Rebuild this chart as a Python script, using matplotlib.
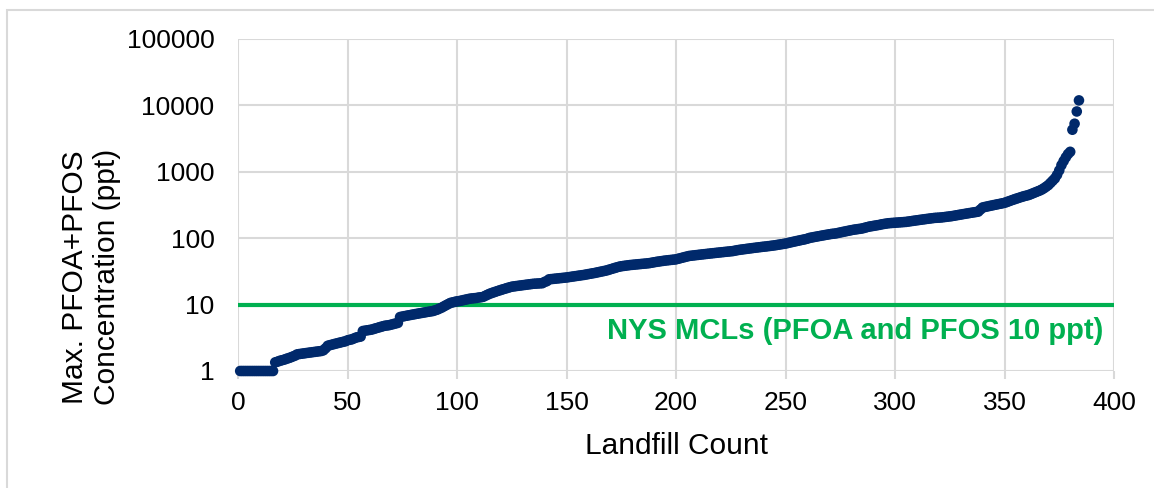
import matplotlib.pyplot as plt
import matplotlib.ticker as mticker
from matplotlib.patches import Rectangle
import numpy as np

plt.rcParams['font.family'] = ['Liberation Sans', 'DejaVu Sans']

# sorted max PFOA+PFOS per landfill (ppt)
conc = [
    1, 1, 1, 1, 1, 1, 1, 1, 1, 1,
    1, 1, 1, 1, 1, 1, 1.35, 1.38, 1.42, 1.45,
    1.48, 1.52, 1.56, 1.6, 1.65, 1.7, 1.78, 1.8, 1.82, 1.84,
    1.86, 1.88, 1.9, 1.92, 1.94, 1.96, 1.98, 2.0, 2.05, 2.2,
    2.4, 2.45, 2.5, 2.55, 2.6, 2.65, 2.7, 2.75, 2.8, 2.9,
    2.95, 3.0, 3.1, 3.2, 3.25, 3.3, 4.0, 4.05, 4.1, 4.15,
    4.2, 4.3, 4.4, 4.5, 4.6, 4.7, 4.8, 4.85, 4.9, 5.0,
    5.1, 5.2, 5.3, 6.5, 6.6, 6.7, 6.8, 6.9, 7.0, 7.1,
    7.2, 7.3, 7.4, 7.5, 7.6, 7.7, 7.8, 7.9, 8.0, 8.2,
    8.4, 8.7, 9.0, 9.4, 9.8, 10.2, 10.6, 10.8, 11.0, 11.2,
    11.3, 11.5, 11.7, 11.9, 12.1, 12.3, 12.4, 12.5, 12.6, 12.8,
    12.9, 13.1, 13.6, 14.1, 14.6, 15.0, 15.4, 15.8, 16.2, 16.6,
    17.0, 17.4, 17.8, 18.2, 18.6, 18.8, 19.0, 19.2, 19.4, 19.6,
    19.8, 20.0, 20.2, 20.4, 20.6, 20.7, 20.8, 20.9, 21.0, 22.0,
    22.5, 24.0, 24.2, 24.4, 24.6, 24.8, 25.0, 25.2, 25.4, 25.6,
    25.9, 26.2, 26.5, 26.8, 27.1, 27.4, 27.7, 28.0, 28.4, 28.8,
    29.2, 29.6, 30.0, 30.5, 31.0, 31.5, 32.0, 32.5, 33.2, 34.0,
    34.8, 35.6, 36.4, 37.2, 37.8, 38.2, 38.6, 39.0, 39.4, 39.7,
    40.0, 40.3, 40.6, 40.9, 41.2, 41.5, 41.8, 42.2, 42.8, 43.4,
    44.0, 44.5, 45.0, 45.5, 46.0, 46.4, 46.8, 47.2, 47.6, 48.0,
    49, 50, 51, 52, 53, 54, 54.5, 55, 55.5, 56,
    56.5, 57, 57.5, 58, 58.5, 59, 59.5, 60, 60.5, 61,
    61.5, 62, 62.5, 63, 63.5, 64, 65, 66, 66.8, 67.5,
    68.2, 68.9, 69.6, 70.3, 71, 71.7, 72.4, 73.1, 73.8, 74.5,
    75, 75.8, 76.5, 77.3, 78, 79, 80, 81, 82, 83,
    84.5, 86, 87.5, 89, 90.5, 92, 93.5, 95, 96.5, 98.5,
    101, 102.5, 104, 105.5, 107, 108.5, 110, 111.5, 113, 114.5,
    116, 117, 118, 120, 122, 124, 126, 128, 130, 132,
    134, 135.5, 137, 138.5, 140, 143, 146, 149, 151, 153,
    155, 157, 159, 162, 164, 166, 168, 169, 170, 171,
    172, 173, 174, 175, 176, 178, 180, 182, 184, 186,
    188, 190, 192, 194, 196, 198, 200, 202, 203, 204,
    205, 207, 209, 211, 213, 215, 218, 221, 224, 227,
    230, 233, 236, 239, 242, 245, 248, 251, 270, 290,
    295, 300, 305, 310, 315, 320, 325, 330, 335, 341,
    350, 360, 370, 380, 390, 400, 410, 420, 430, 438,
    447, 460, 475, 490, 505, 520, 540, 565, 596, 630,
    680, 735, 795, 900, 1050, 1260, 1450, 1650, 1850, 2000,
    4300, 5300, 8100, 11900,
]
count = np.arange(1, len(conc) + 1)

mcl = 10
mcl_label = 'NYS MCLs (PFOA and PFOS 10 ppt)'
yticks = [1, 10, 100, 1000, 10000, 100000]
xticks = [0, 50, 100, 150, 200, 250, 300, 350, 400]

navy = '#00296B'
green = '#00B050'
grid = '#D9D9D9'

fig = plt.figure(figsize=(11.54, 4.88), dpi=100)
fig.patches.append(Rectangle((7 / 1154, -0.1), 1.2, 1 - 10 / 488 + 0.1,
                             transform=fig.transFigure, fill=False,
                             edgecolor='#D9D9D9', lw=1.5))
ax = fig.add_axes([238 / 1154, 1 - 371 / 488, 876 / 1154, 332 / 488])

ax.plot([0, 400], [mcl, mcl], color=green, lw=3, zorder=2)
ax.scatter(count, conc, s=58, color=navy, edgecolors='none', zorder=3, clip_on=False)
ax.text(395, 4.0, mcl_label, color=green, fontsize=21, fontweight='bold',
        ha='right', va='center')

ax.set_yscale('log')
ax.set_ylim(1, 100000)
ax.set_xlim(0, 400)
ax.set_yticks(yticks)
ax.yaxis.set_major_formatter(mticker.FuncFormatter(lambda v, p: f'{v:.0f}'))
ax.yaxis.set_minor_locator(mticker.NullLocator())
ax.set_xticks(xticks)

ax.grid(True, color=grid, lw=1.5)
ax.set_axisbelow(True)
for s in ax.spines.values():
    s.set_visible(False)
ax.tick_params(axis='y', length=0, labelsize=19, pad=17)
ax.tick_params(axis='x', length=6, color=grid, width=1.5, labelsize=19, pad=8.5)

fig.text(676 / 1154, 1 - 446 / 488, 'Landfill Count', fontsize=21.5,
         ha='center', va='center')
# two-line y label, baselines placed separately
fig.text(83 / 1154, 1 - 277 / 488, 'Max. PFOA+PFOS', fontsize=21.5,
         rotation=90, rotation_mode='anchor', ha='center', va='baseline')
fig.text(115 / 1154, 1 - 277 / 488, 'Concentration (ppt)', fontsize=21.5,
         rotation=90, rotation_mode='anchor', ha='center', va='baseline')

fig.savefig('out.png', dpi=100)
